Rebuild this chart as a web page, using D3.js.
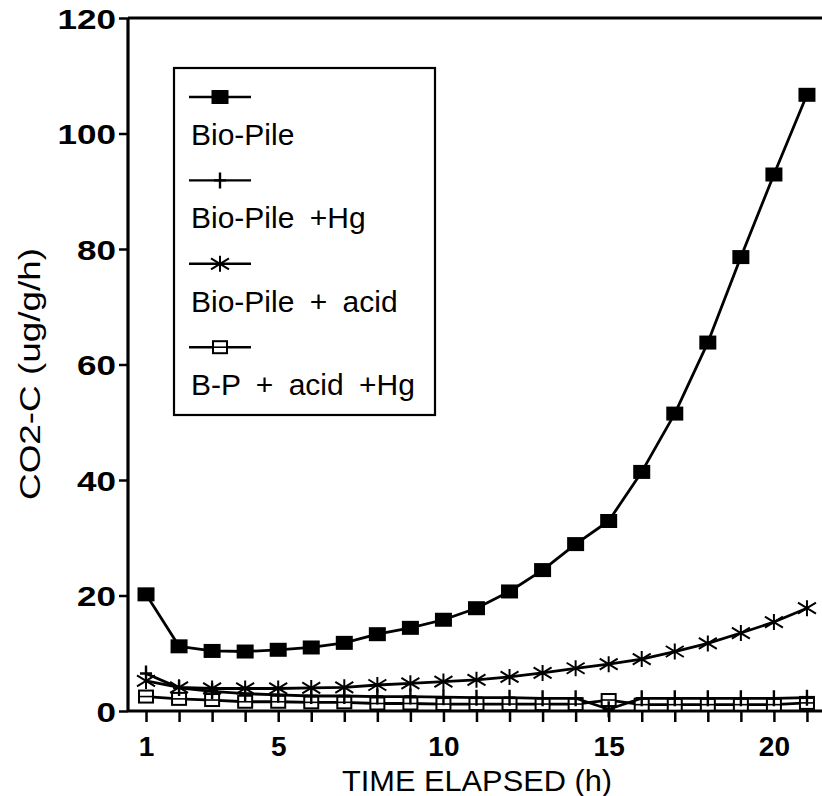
<!DOCTYPE html>
<html>
<head>
<meta charset="utf-8">
<script src="https://cdn.jsdelivr.net/npm/d3@7/dist/d3.min.js"></script>
<style>
  html, body { margin: 0; padding: 0; background: #fff; }
  svg { display: block; font-family: "Liberation Sans", Arial, Helvetica, sans-serif; }
</style>
</head>
<body>
<svg id="chart" width="822" height="796"></svg>
<script>
// Elapsed time (h)
const hours = [1, 2, 3, 4, 5, 6, 7, 8, 9, 10, 11, 12, 13, 14, 15, 16, 17, 18, 19, 20, 21];

// CO2-C evolution rates (ug/g/h)
const bioPile     = [20.2, 11.2, 10.4, 10.3, 10.6, 11.0, 11.8, 13.3, 14.4, 15.8, 17.8, 20.7, 24.4, 28.9, 32.9, 41.4, 51.5, 63.8, 78.6, 92.9, 106.7];
const bioPileHg   = [6.5, 4.0, 3.4, 3.0, 2.8, 2.6, 2.6, 2.5, 2.5, 2.4, 2.3, 2.3, 2.2, 2.2, 0.3, 2.2, 2.2, 2.2, 2.2, 2.2, 2.3];
const bioPileAcid = [5.2, 4.1, 3.9, 3.9, 3.9, 4.0, 4.1, 4.5, 4.8, 5.1, 5.4, 5.9, 6.6, 7.4, 8.1, 9.0, 10.3, 11.7, 13.5, 15.4, 17.8];
const bpAcidHg    = [2.5, 2.1, 1.9, 1.6, 1.6, 1.5, 1.5, 1.3, 1.3, 1.2, 1.2, 1.2, 1.2, 1.2, 1.9, 1.1, 1.1, 1.1, 1.1, 1.1, 1.4];

const seriesNames = ["Bio-Pile", "Bio-Pile +Hg", "Bio-Pile + acid", "B-P + acid +Hg"];
const xTickLabels = [1, 5, 10, 15, 20];
const yTicks = [0, 20, 40, 60, 80, 100, 120];
const xTitle = "TIME ELAPSED (h)";
const yTitle = "CO2-C (ug/g/h)";

const series = [
  { name: seriesNames[0], values: bioPile,     marker: "filledSquare" },
  { name: seriesNames[1], values: bioPileHg,   marker: "plus" },
  { name: seriesNames[2], values: bioPileAcid, marker: "asterisk" },
  { name: seriesNames[3], values: bpAcidHg,    marker: "openSquare" }
];

const svg = d3.select("#chart");
const plotLeft = 128, plotRight = 822, plotTop = 18, plotBottom = 711;

const x = d3.scaleLinear().domain([0.455, 21.455]).range([plotLeft, plotRight]);
const y = d3.scaleLinear().domain([0, 120]).range([plotBottom, plotTop]);

// Frame: top edge
svg.append("line")
  .attr("x1", plotLeft).attr("x2", plotRight).attr("y1", plotTop).attr("y2", plotTop)
  .attr("stroke", "#000").attr("stroke-width", 3);

// Y axis (wide, heavy digits)
const yAxis = svg.append("g")
  .attr("transform", `translate(${plotLeft},0)`)
  .call(d3.axisLeft(y).tickValues(yTicks).tickSize(9).tickPadding(3).tickFormat(d3.format("d")));
yAxis.select(".domain").attr("stroke-width", 3.2).attr("d", `M0,${plotTop}V${plotBottom}`);
yAxis.selectAll(".tick line").attr("stroke-width", 2.5);
yAxis.selectAll(".tick text")
  .attr("font-family", "'Liberation Sans', Arial, sans-serif")
  .attr("font-size", 28).attr("font-weight", "bold").attr("fill", "#000")
  .attr("dy", "0.36em")
  .attr("textLength", d => String(d).length * 19.5)
  .attr("lengthAdjust", "spacingAndGlyphs");

// X axis: a tick every hour, labels on selected hours
const xAxis = svg.append("g")
  .attr("transform", `translate(0,${plotBottom})`)
  .call(d3.axisBottom(x).tickValues(hours).tickSize(11).tickPadding(14)
    .tickFormat(d => xTickLabels.includes(d) ? String(d) : ""));
xAxis.select(".domain").attr("stroke-width", 3.2).attr("d", `M${plotLeft},0H${plotRight}`);
xAxis.selectAll(".tick line").attr("stroke-width", 2.5);
xAxis.selectAll(".tick text")
  .attr("font-family", "'Liberation Sans', Arial, sans-serif")
  .attr("font-size", 28).attr("font-weight", "bold").attr("fill", "#000");

// Axis titles
svg.append("text")
  .attr("x", 477).attr("y", 791)
  .attr("text-anchor", "middle")
  .attr("font-size", 30)
  .attr("textLength", 270)
  .attr("lengthAdjust", "spacingAndGlyphs")
  .text(xTitle);

svg.append("text")
  .attr("transform", "translate(40,374) rotate(-90)")
  .attr("text-anchor", "middle")
  .attr("font-size", 29)
  .attr("textLength", 252)
  .attr("lengthAdjust", "spacingAndGlyphs")
  .text(yTitle);

// Marker drawing
function drawMarker(g, type, cx, cy) {
  if (type === "filledSquare") {
    g.append("rect").attr("x", cx - 8.5).attr("y", cy - 7).attr("width", 17).attr("height", 14)
      .attr("fill", "#000");
  } else if (type === "openSquare") {
    g.append("rect").attr("x", cx - 7).attr("y", cy - 6).attr("width", 14).attr("height", 12)
      .attr("fill", "#fff").attr("stroke", "#000").attr("stroke-width", 2);
    g.append("line").attr("x1", cx - 7).attr("x2", cx + 7).attr("y1", cy).attr("y2", cy)
      .attr("stroke", "#000").attr("stroke-width", 1.6);
  } else if (type === "plus") {
    g.append("path").attr("d", `M${cx - 6},${cy}H${cx + 6}M${cx},${cy - 8}V${cy + 8}`)
      .attr("stroke", "#000").attr("stroke-width", 2.4).attr("fill", "none");
  } else if (type === "asterisk") {
    g.append("path")
      .attr("d", `M${cx},${cy - 8}V${cy + 8}M${cx - 9},${cy - 5.5}L${cx + 9},${cy + 5.5}M${cx - 9},${cy + 5.5}L${cx + 9},${cy - 5.5}`)
      .attr("stroke", "#000").attr("stroke-width", 2).attr("fill", "none");
  }
}

const line = d3.line().x((d, i) => x(hours[i])).y(d => y(d));

// Draw lower series first so the large markers sit on top
const drawOrder = [3, 1, 2, 0];
drawOrder.forEach(k => {
  const s = series[k];
  const g = svg.append("g").attr("class", "series");
  g.append("path").datum(s.values)
    .attr("d", line)
    .attr("fill", "none").attr("stroke", "#000").attr("stroke-width", 2.8)
    .attr("stroke-linejoin", "round");
  s.values.forEach((v, i) => drawMarker(g, s.marker, x(hours[i]), y(v)));
});

// Legend
const legend = svg.append("g");
legend.append("rect")
  .attr("x", 174).attr("y", 68).attr("width", 261).attr("height", 347)
  .attr("fill", "#fff").attr("stroke", "#000").attr("stroke-width", 2.2);

series.forEach((s, i) => {
  const ly = 97 + i * 83.4;
  const lg = legend.append("g");
  lg.append("line").attr("x1", 189).attr("x2", 251).attr("y1", ly).attr("y2", ly)
    .attr("stroke", "#000").attr("stroke-width", 2.4);
  drawMarker(lg, s.marker, 220, ly);
  lg.append("text")
    .attr("x", 191).attr("y", ly + 48)
    .attr("font-size", 30)
    .attr("word-spacing", 7)
    .text(s.name);
});
</script>
</body>
</html>
